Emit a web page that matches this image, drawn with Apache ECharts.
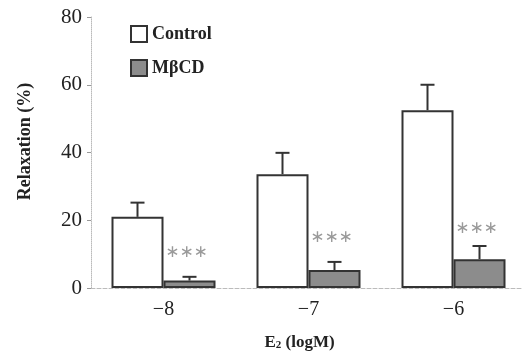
<!DOCTYPE html>
<html><head><meta charset="utf-8">
<script src="https://cdn.jsdelivr.net/npm/echarts@6/dist/echarts.min.js"></script>
<style>html,body{margin:0;padding:0;background:#fff}#c{width:522px;height:351px}</style>
</head><body><div id="c"></div>
<script>
var categories = ['\u22128', '\u22127', '\u22126'];
var controlValues = [21, 33.6, 52.5];
var controlErrors = [4.2, 6.3, 7.5];
var mbcdValues = [2.2, 5.3, 8.5];
var mbcdErrors = [1.1, 2.4, 3.9];
var yTicks = [0, 20, 40, 60, 80];
var sigLabels = ['\u2217\u2217\u2217', '\u2217\u2217\u2217', '\u2217\u2217\u2217'];
var sigLevels = [10.6, 15.0, 17.4];

var serif = '"Liberation Serif", "DejaVu Serif", serif';
var chart = echarts.init(document.getElementById('c'), null, {renderer: 'canvas'});

function errSeries(name, values, errs, offset) {
  return {
    type: 'custom', name: name + ' err', z: 5,
    data: values.map(function (v, i) { return [i, v, v + errs[i]]; }),
    renderItem: function (params, api) {
      var base = api.coord([api.value(0), api.value(1)]);
      var top = api.coord([api.value(0), api.value(2)]);
      var x = base[0] + offset;
      return {
        type: 'group', children: [
          {type: 'line', shape: {x1: x, y1: base[1], x2: x, y2: top[1]}, style: {stroke: '#333', lineWidth: 2}},
          {type: 'line', shape: {x1: x - 7, y1: top[1], x2: x + 7, y2: top[1]}, style: {stroke: '#333', lineWidth: 2}}
        ]
      };
    }
  };
}

var option = {
  animation: false,
  backgroundColor: '#fff',
  grid: {left: 91, top: 17, width: 435, height: 271, outerBoundsMode: 'none', containLabel: false},
  legend: {
    orient: 'vertical', left: 125, top: 20, itemWidth: 16, itemHeight: 16, itemGap: 16,
    icon: 'rect',
    textStyle: {fontFamily: serif, fontSize: 18, color: '#222', fontWeight: 'bold'},
    data: ['Control', 'M\u03b2CD']
  },
  xAxis: {
    type: 'category', data: categories,
    axisLine: {lineStyle: {color: '#bbb', type: 'dashed', width: 1}},
    axisTick: {show: false},
    axisLabel: {fontFamily: serif, fontSize: 20, color: '#222', margin: 12},
    name: '{b|E}{s|2}{b| (logM)}', nameLocation: 'middle', nameGap: 46,
    nameTextStyle: {
      padding: [0, 18, 0, 0],
      rich: {
        b: {fontFamily: serif, fontSize: 17, fontWeight: 'bold', color: '#222'},
        s: {fontFamily: serif, fontSize: 11, fontWeight: 'bold', color: '#222', verticalAlign: 'bottom', padding: [6, 0, 0, 0]}
      }
    }
  },
  yAxis: {
    type: 'value', min: 0, max: 80, interval: 20,
    axisLine: {show: true, lineStyle: {color: '#bbb', type: 'dotted', width: 1}},
    axisTick: {show: true, length: 4, lineStyle: {color: '#999'}},
    splitLine: {show: false},
    axisLabel: {fontFamily: serif, fontSize: 21, color: '#222', margin: 9,
      formatter: function (v) { return yTicks.indexOf(v) >= 0 ? String(v) : ''; }},
    name: 'Relaxation (%)', nameLocation: 'middle', nameGap: 57,
    nameTextStyle: {fontFamily: serif, fontSize: 18, fontWeight: 'bold', color: '#222', padding: [0, 0, 0, 22]}
  },
  series: [
    {
      name: 'Control', type: 'bar', data: controlValues, barWidth: 52, barGap: '0%',
      itemStyle: {color: '#fff', borderColor: '#333', borderWidth: 2}
    },
    {
      name: 'M\u03b2CD', type: 'bar', data: mbcdValues, barWidth: 52,
      itemStyle: {color: '#8c8c8c', borderColor: '#333', borderWidth: 2}
    },
    errSeries('Control', controlValues, controlErrors, -26),
    errSeries('MbCD', mbcdValues, mbcdErrors, 26),
    {
      type: 'custom', name: 'sig', z: 6,
      data: sigLevels.map(function (v, i) { return [i, v]; }),
      renderItem: function (params, api) {
        var p = api.coord([api.value(0), api.value(1)]);
        return {type: 'text', x: p[0] + 23, y: p[1],
          style: {text: sigLabels[params.dataIndex], fill: '#9a9a9a', font: '17px "DejaVu Sans", sans-serif',
            align: 'center', verticalAlign: 'middle'}};
      }
    }
  ]
};
chart.setOption(option);
</script>
</body></html>
